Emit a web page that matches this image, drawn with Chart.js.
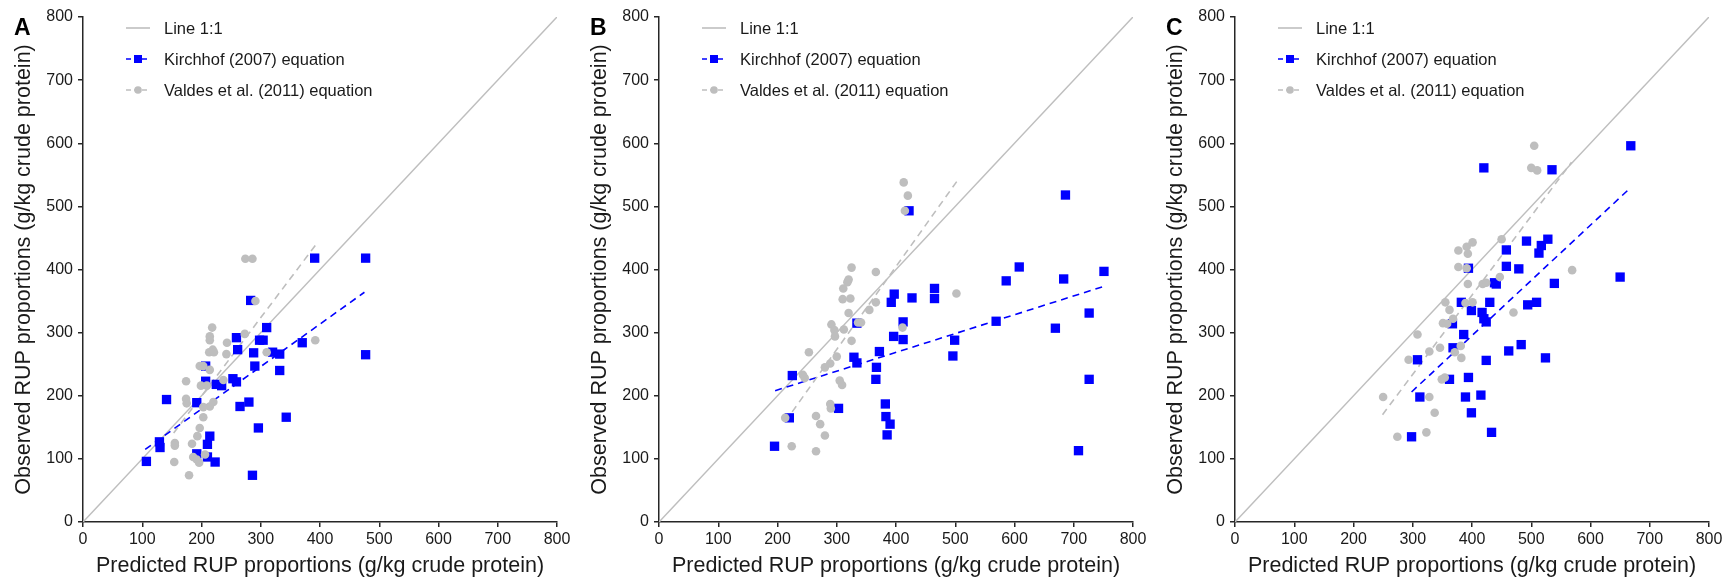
<!DOCTYPE html>
<html>
<head>
<meta charset="utf-8">
<script src="https://cdn.jsdelivr.net/npm/chart.js@4.4.0/dist/chart.umd.min.js"></script>
<style>
  html, body { margin: 0; padding: 0; background: #fff; overflow: hidden; }
  #wrap { position: relative; width: 1725px; height: 581px; }
  .panel { position: absolute; top: 0; width: 576px; height: 581px; }
</style>
</head>
<body>
<div id="wrap">
  <div class="panel" style="left:0"><canvas id="chart-a" width="576" height="581"></canvas></div>
  <div class="panel" style="left:576px"><canvas id="chart-b" width="576" height="581"></canvas></div>
  <div class="panel" style="left:1152px"><canvas id="chart-c" width="576" height="581"></canvas></div>
</div>
<script>
// Panel A: predicted vs observed RUP (g/kg CP)
const predKirchhofA = [107, 129, 130, 141, 192, 207, 207, 192, 214, 210, 210, 223, 225, 234, 259, 261, 253, 259, 265, 280, 288, 290, 283, 286, 296, 298, 304, 310, 320, 332, 332, 343, 370, 391, 477, 477];
const obsKirchhofA  = [96, 127, 118, 194, 189, 247, 223, 108, 136, 123, 103, 95, 218, 216, 292, 273, 227, 222, 183, 190, 268, 247, 351, 74, 149, 288, 288, 308, 269, 266, 240, 166, 284, 418, 418, 265];
const predValdesA = [274, 286, 291, 218, 214, 214, 243, 219, 213, 221, 242, 273, 197, 203, 214, 174, 237, 199, 209, 174, 175, 203, 214, 220, 203, 197, 193, 155, 155, 184, 186, 192, 196, 154, 179, 310, 392, 206];
const obsValdesA  = [417, 417, 350, 308, 294, 288, 284, 273, 269, 269, 266, 298, 247, 247, 241, 223, 225, 216, 216, 195, 188, 182, 183, 190, 166, 149, 136, 125, 121, 124, 103, 99, 94, 95, 74, 269, 288, 107];
const fitKirchhofA = [[105, 115], [475, 364]];
const fitValdesA = [[153, 141], [392, 438]];

// Panel B
const predKirchhofB = [195, 225, 220, 303, 334, 329, 334, 367, 366, 372, 382, 383, 390, 385, 396, 392, 397, 422, 427, 412, 412, 465, 465, 499, 496, 569, 586, 608, 669, 683, 686, 726, 726, 708, 751];
const obsKirchhofB  = [120, 232, 165, 180, 315, 261, 252, 245, 226, 270, 187, 167, 155, 138, 294, 348, 361, 493, 355, 317, 289, 370, 354, 288, 263, 318, 382, 404, 307, 385, 518, 331, 226, 113, 397];
const predValdesB = [325, 320, 318, 311, 310, 323, 320, 366, 366, 355, 341, 336, 291, 296, 297, 312, 325, 253, 300, 289, 280, 243, 246, 305, 309, 289, 290, 265, 272, 280, 213, 224, 265, 502, 411, 413, 420, 415];
const obsValdesB  = [403, 384, 380, 370, 353, 354, 331, 396, 348, 336, 316, 316, 313, 304, 294, 305, 287, 269, 262, 251, 245, 233, 228, 224, 217, 187, 180, 168, 155, 137, 165, 120, 112, 362, 308, 538, 517, 493];
const fitKirchhofB = [[196, 208], [750, 373]];
const fitValdesB = [[213, 159], [503, 540]];

// Panel C
const predKirchhofC = [298, 308, 312, 362, 368, 367, 382, 386, 394, 389, 394, 399, 399, 415, 417, 420, 424, 420, 424, 430, 433, 438, 441, 458, 458, 462, 479, 483, 492, 494, 509, 513, 517, 528, 524, 535, 539, 650, 668];
const obsKirchhofC  = [135, 257, 198, 226, 276, 314, 348, 297, 402, 198, 229, 173, 335, 201, 332, 322, 317, 561, 256, 348, 142, 379, 377, 405, 431, 271, 401, 281, 445, 344, 348, 426, 438, 448, 260, 558, 378, 388, 596];
const predValdesC = [250, 274, 293, 308, 323, 328, 328, 337, 346, 349, 354, 351, 355, 362, 358, 368, 371, 377, 377, 382, 381, 391, 393, 401, 393, 389, 401, 391, 418, 424, 447, 450, 470, 505, 500, 510, 569];
const obsValdesC  = [198, 135, 257, 297, 142, 270, 198, 173, 276, 226, 229, 315, 348, 336, 314, 322, 269, 404, 430, 260, 279, 436, 425, 443, 377, 347, 348, 402, 377, 379, 388, 448, 332, 596, 561, 557, 399];
const fitKirchhofC = [[298, 206], [667, 529]];
const fitValdesC = [[249, 170], [568, 570]];

const identityLine = [[0, 0], [800, 800]];
const axisMax = 800;

const BLUE = '#0000FF';
const GRAY = '#BEBEBE';
const TEXT = '#1a1a1a';
const AXIS = '#262626';
const FONT = "'Liberation Sans', Arial, sans-serif";

Chart.defaults.font.family = FONT;
Chart.defaults.color = TEXT;

const toPoints = (xs, ys) => xs.map((x, i) => ({ x: x, y: ys[i] }));
const pairs = (arr) => arr.map(p => ({ x: p[0], y: p[1] }));

const legendEntries = [
    { label: 'Line 1:1', color: GRAY, dash: [], marker: null },
    { label: 'Kirchhof (2007) equation', color: BLUE, dash: [5, 3], marker: 'rect' },
    { label: 'Valdes et al. (2011) equation', color: GRAY, dash: [5, 3], marker: 'circle' }
];

// legend sits inside the plot, top-left, plus the panel letter
const panelDecor = {
    id: 'panelDecor',
    afterDraw(chart, args, opts) {
        const { ctx, chartArea } = chart;
        ctx.save();
        ctx.fillStyle = '#000';
        ctx.font = `bold 23px ${FONT}`;
        ctx.textBaseline = 'alphabetic';
        ctx.fillText(opts.letter, 14, 35);

        const x0 = chartArea.left;
        legendEntries.forEach((e, i) => {
            const y = chartArea.top + 11 + i * 31;
            ctx.strokeStyle = e.color;
            ctx.lineWidth = 1.6;
            ctx.setLineDash(e.dash);
            ctx.beginPath();
            ctx.moveTo(x0 + 43, y);
            ctx.lineTo(x0 + 67, y);
            ctx.stroke();
            ctx.setLineDash([]);
            ctx.fillStyle = e.color;
            if (e.marker === 'rect') {
                ctx.fillRect(x0 + 51, y - 4, 8, 8);
            } else if (e.marker === 'circle') {
                ctx.beginPath();
                ctx.arc(x0 + 55, y, 3.8, 0, Math.PI * 2);
                ctx.fill();
            }
            ctx.fillStyle = TEXT;
            ctx.font = `16.5px ${FONT}`;
            ctx.textBaseline = 'middle';
            ctx.fillText(e.label, x0 + 81, y + 1);
        });
        ctx.restore();
    }
};

function makePanel(canvasId, letter, kPred, kObs, vPred, vObs, kFit, vFit) {
    const axisBase = (titleText) => ({
        type: 'linear',
        min: 0,
        max: axisMax,
        ticks: { stepSize: 100, color: TEXT, font: { size: 16 }, padding: 3, maxRotation: 0 },
        grid: { drawOnChartArea: false, drawTicks: true, tickLength: 5, color: AXIS, lineWidth: 1.5 },
        border: { display: true, color: AXIS, width: 1.5 },
        title: { display: true, text: titleText, color: TEXT, font: { size: 21.5 } }
    });

    const xAxis = axisBase('Predicted RUP proportions (g/kg crude protein)');
    xAxis.title.padding = { top: 0, bottom: 2 };
    xAxis.afterFit = (s) => { s.height = 59; };

    const yAxis = axisBase('Observed RUP proportions (g/kg crude protein)');
    yAxis.ticks.padding = 5;
    yAxis.title.padding = { top: 11, bottom: 0 };
    yAxis.afterFit = (s) => { s.width = 83; };

    return new Chart(document.getElementById(canvasId), {
        type: 'scatter',
        data: {
            datasets: [
                { label: 'Valdes et al. (2011) equation', data: toPoints(vPred, vObs), pointStyle: 'circle', pointRadius: 4.3, backgroundColor: GRAY, borderWidth: 0 },
                { label: 'Kirchhof (2007) equation', data: toPoints(kPred, kObs), pointStyle: 'rect', pointRadius: 6.6, backgroundColor: BLUE, borderWidth: 0 },
                { type: 'line', label: 'Valdes fit', data: pairs(vFit), borderColor: GRAY, borderWidth: 1.6, borderDash: [7, 5], pointRadius: 0, fill: false },
                { type: 'line', label: 'Kirchhof fit', data: pairs(kFit), borderColor: BLUE, borderWidth: 1.6, borderDash: [7, 5], pointRadius: 0, fill: false },
                { type: 'line', label: 'Line 1:1', data: pairs(identityLine), borderColor: GRAY, borderWidth: 1.5, pointRadius: 0, fill: false }
            ]
        },
        options: {
            responsive: false,
            animation: false,
            layout: { padding: { top: 17, right: 19, left: 0, bottom: 0 } },
            plugins: {
                legend: { display: false },
                tooltip: { enabled: false },
                panelDecor: { letter: letter }
            },
            scales: { x: xAxis, y: yAxis }
        },
        plugins: [panelDecor]
    });
}

makePanel('chart-a', 'A', predKirchhofA, obsKirchhofA, predValdesA, obsValdesA, fitKirchhofA, fitValdesA);
makePanel('chart-b', 'B', predKirchhofB, obsKirchhofB, predValdesB, obsValdesB, fitKirchhofB, fitValdesB);
makePanel('chart-c', 'C', predKirchhofC, obsKirchhofC, predValdesC, obsValdesC, fitKirchhofC, fitValdesC);
</script>
</body>
</html>
